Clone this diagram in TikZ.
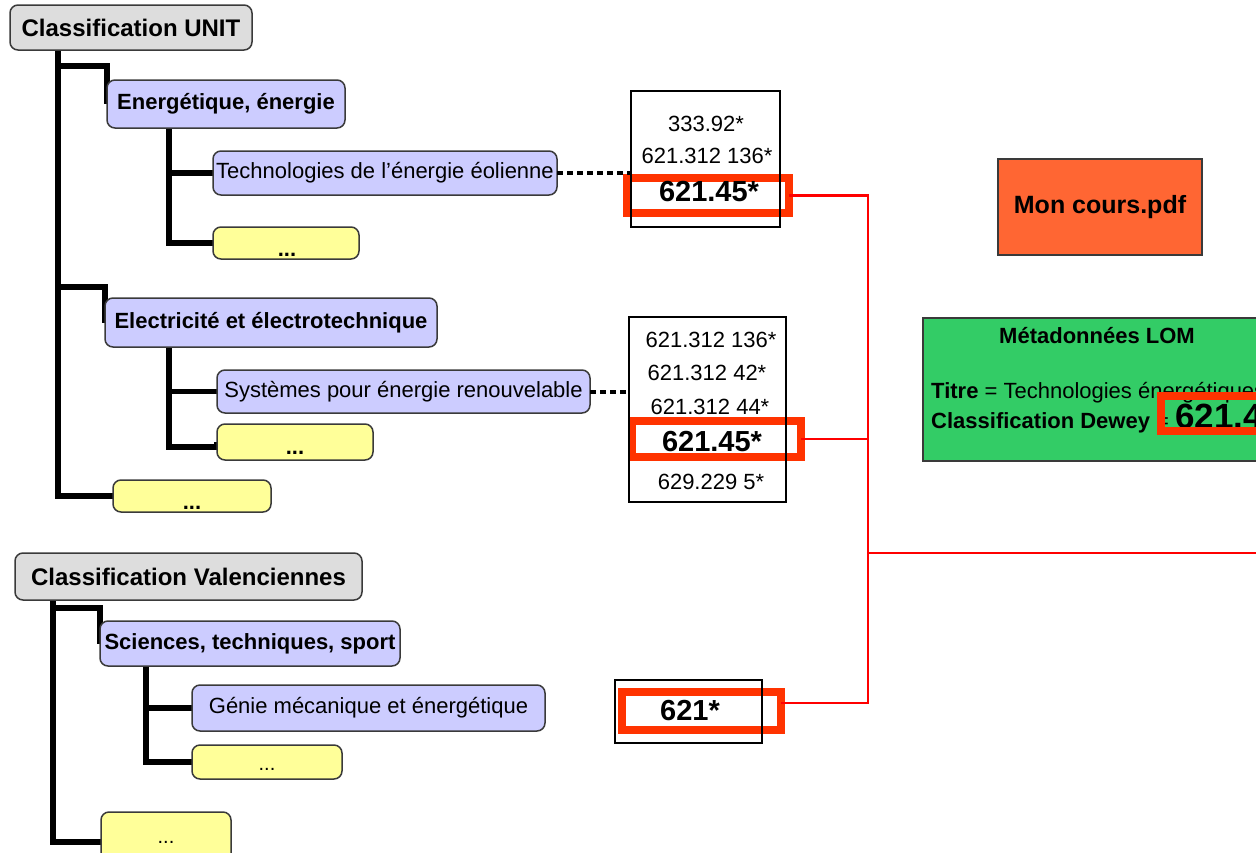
\documentclass[tikz,border=0pt]{standalone}
\usepackage{fontspec}
\setmainfont{Liberation Sans}
\usetikzlibrary{calc,backgrounds}
\definecolor{lav}{HTML}{CCCCFF}
\definecolor{yel}{HTML}{FFFF99}
\definecolor{titlegray}{HTML}{DDDDDD}
\definecolor{bdr}{HTML}{3A3A3A}
\definecolor{monor}{HTML}{FF6633}
\definecolor{lomgreen}{HTML}{33CC66}
\definecolor{hired}{HTML}{FF3300}
\definecolor{linered}{HTML}{FF0000}
\newcommand\fsz[1]{\fontsize{#1}{#1}\selectfont}
\begin{document}
\begin{tikzpicture}[x=1pt,y=-1pt,
  box/.style={draw=bdr, line width=1.5pt, rounded corners=8pt, inner sep=0pt,
    outer sep=0pt, anchor=north west, text=black},
  ttl/.style={box, fill=titlegray, font=\fsz{24}\bfseries},
  cat/.style={box, fill=lav, font=\fsz{22}\bfseries},
  sub/.style={box, fill=lav, font=\fsz{22}},
  more/.style={box, fill=yel},
  dots/.style={anchor=base, inner sep=0pt, font=\fsz{22}\bfseries},
  dotsr/.style={anchor=base, inner sep=0pt, font=\fsz{20}},
  numbox/.style={draw=black, line width=1.2pt, anchor=north west, inner sep=0pt, outer sep=0pt},
  num/.style={inner sep=0pt, font=\fsz{22}},
  bignum/.style={inner sep=0pt, font=\fsz{29}\bfseries},
  redbox/.style={draw=hired, line width=8pt, inner sep=0pt, outer sep=0pt},
  tree/.style={draw=black, line width=5.5pt},
  dotline/.style={draw=black, line width=4pt, dash pattern=on 6pt off 4pt},
  redline/.style={draw=linered, line width=2.5pt},
  doc/.style={draw=bdr, line width=1.5pt, anchor=north west, inner sep=0pt, outer sep=0pt}
]
\useasboundingbox (0,0) rectangle (1256,852);
\clip (0,0) rectangle (1256,852);

% --- UNIT tree
\node[ttl, minimum width=242pt, minimum height=45pt] (unit) at (10,5) {Classification UNIT};
\node[cat, minimum width=238pt, minimum height=48pt] (ener) at (107,80) {Energétique, énergie};
\node[sub, minimum width=344pt, minimum height=44pt] (tech) at (213,151) {Technologies de l’énergie éolienne};
\node[more, minimum width=146pt, minimum height=32pt] (yel1) at (213,227) {};
\node[dots] (d1) at (287,256) {...};
\node[cat, minimum width=332pt, minimum height=49pt] (elec) at (105,298) {Electricité et électrotechnique};
\node[sub, minimum width=373pt, minimum height=43pt] (sys) at (217,370) {Systèmes pour énergie renouvelable};
\node[more, minimum width=156pt, minimum height=36pt] (yel2) at (217,424) {};
\node[dots] (d2) at (295,454) {...};
\node[more, minimum width=158pt, minimum height=32pt] (yel3) at (113,480) {};
\node[dots] (d3) at (192,509) {...};

% --- Valenciennes tree
\node[ttl, minimum width=347pt, minimum height=47pt] (val) at (15,553) {Classification Valenciennes};
\node[cat, minimum width=300pt, minimum height=45pt] (sci) at (100,621) {Sciences, techniques, sport};
\node[sub, minimum width=353pt, minimum height=46pt] (gen) at (192,685) {Génie mécanique et énergétique};
\node[more, minimum width=150pt, minimum height=34pt] (yel4) at (192,745) {};
\node[dotsr] (d4) at (267,770) {...};
\node[more, minimum width=130pt, minimum height=50pt] (yel5) at (101,812) {};
\node[dotsr] (d5) at (166,843) {...};

% --- tree connectors (behind boxes)
\begin{pgfonlayer}{background}
\draw[tree] ($(unit.south west)+(48,0)$) |- (yel3.west);
\draw[tree] ($(unit.south west)+(48,16)$) -| (ener.west);
\draw[tree] ($(unit.south west)+(48,237)$) -| (elec.west);
\draw[tree] ($(ener.south west)+(62,0)$) |- (tech.west);
\draw[tree] ($(ener.south west)+(62,0)$) |- (yel1.west);
\draw[tree] ($(elec.south west)+(64,0)$) |- (sys.west);
\draw[tree] ($(elec.south west)+(64,0)$) |- ($(yel2.west)+(0,5)$) -- (yel2.west);
\draw[tree] ($(val.south west)+(38,0)$) |- ($(yel5.west)+(0,5)$);
\draw[tree] ($(val.south west)+(38,8)$) -| (sci.west);
\draw[tree] ($(sci.south west)+(46,0)$) |- (gen.west);
\draw[tree] ($(sci.south west)+(46,0)$) |- (yel4.west);
\end{pgfonlayer}

% --- Dewey number boxes
\node[redbox, minimum width=162pt, minimum height=35pt] (r1) at (707.5,195.5) {};
\node[numbox, minimum width=149pt, minimum height=136pt] (b1) at (631,91) {};
\node[num] (n1a) at (706,124) {333.92*};
\node[num] (n1b) at (707,156) {621.312 136*};
\node[bignum] (n1c) at (709,192) {621.45*};

\node[redbox, minimum width=169pt, minimum height=36pt] (r2) at (716.5,439) {};
\node[numbox, minimum width=157pt, minimum height=185pt] (b2) at (629,317) {};
\node[num] (n2a) at (711,340) {621.312 136*};
\node[num] (n2b) at (707,373) {621.312 42*};
\node[num] (n2c) at (710,407) {621.312 44*};
\node[bignum] (n2d) at (712,442) {621.45*};
\node[num] (n2e) at (711,482) {629.229 5*};

\node[redbox, minimum width=159pt, minimum height=38pt] (r3) at (701.5,711) {};
\node[numbox, minimum width=147pt, minimum height=63pt] (b3) at (615,680) {};
\node[bignum] (n3a) at (690,711) {621*};

% dotted links
\draw[dotline] (tech.east) -- (tech.east -| b1.west);
\draw[dotline] (sys.east) -- (sys.east -| b2.west);
\draw[dotline] ($(gen.east)+(0,-4)$) -- ($(gen.east)+(0,-4)$ -| b3.west);

% --- document and metadata
\node[doc, fill=monor, minimum width=204pt, minimum height=96pt, font=\fsz{25}\bfseries] (mon) at (998,159) {Mon cours.pdf};
\node[doc, fill=lomgreen, minimum width=348pt, minimum height=143pt] (lom) at (923,318) {};
\node[anchor=base, inner sep=0pt, font=\fsz{22}\bfseries] (lomt) at (1097,343) {Métadonnées LOM};
\node[anchor=base west, inner sep=0pt, font=\fsz{22}] (loma) at (931,398) {\textbf{Titre} = Technologies énergétiques};
\node[anchor=base west, inner sep=0pt, font=\fsz{22}] (lomb) at (931,428) {\textbf{Classification Dewey} = {\fsz{35}\bfseries 621.45*}};
\node[redbox, anchor=north west, minimum width=169pt, minimum height=35pt] (r4) at (1161,396) {};
\draw[dotline] ($(mon.south)+(-21,0)$) -- ($(mon.south)+(-21,0)$ |- lom.north);

% --- red links
\coordinate (j) at (868,553);
\coordinate (jend) at (1300,553);
\draw[redline] (r1.east) -| (j);
\draw[redline] (r2.east) -| (j);
\draw[redline] ($(r3.east)+(0,-8)$) -| (j);
\draw[redline] (j) -- (jend);
\end{tikzpicture}
\end{document}
